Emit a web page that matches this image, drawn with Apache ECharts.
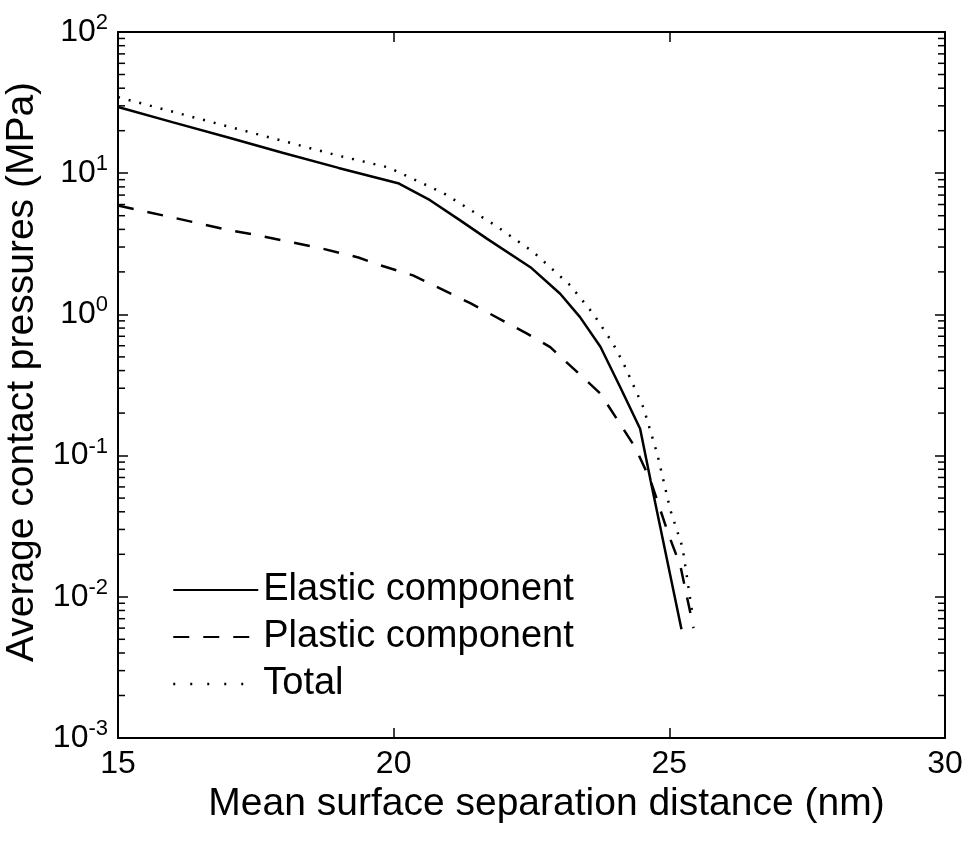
<!DOCTYPE html>
<html>
<head>
<meta charset="utf-8">
<title>Average contact pressures</title>
<script src="https://cdn.jsdelivr.net/npm/echarts@6/dist/echarts.min.js"></script>
<style>
  html, body { margin: 0; background: #fff; }
  #chart { width: 965px; height: 850px; }
</style>
</head>
<body>
<div id="chart"></div>
<script>
// separation distance (nm) / pressure (MPa)
const sepElastic = [15, 16, 17, 18, 19, 20.08, 20.66, 21.2, 21.69, 22.48, 23.02, 23.38, 23.75, 24.11, 24.47, 24.66, 25.22];
const elastic    = [29.4, 22.9, 17.9, 13.9, 10.9, 8.5, 6.44, 4.65, 3.44, 2.16, 1.40, 0.957, 0.59, 0.305, 0.155, 0.0665, 0.0059];

const sepPlastic = [15, 16, 17, 17.54, 18, 18.68, 19.36, 19.75, 20.35, 21.39, 22.42, 22.84, 23.75, 24.38, 24.66, 24.98, 25.2, 25.44];
const plastic    = [5.9, 4.85, 3.96, 3.63, 3.33, 2.94, 2.53, 2.23, 1.89, 1.20, 0.73, 0.586, 0.275, 0.1146, 0.0665, 0.028, 0.0166, 0.006];

const sepTotal = [15, 16, 17, 18, 19, 19.9, 20.9, 21.84, 22.53, 23.2, 23.62, 23.98, 24.17, 24.53, 24.78, 25.02, 25.24, 25.42];
const total    = [34.6, 27.2, 21.4, 16.9, 13.3, 11.0, 7.24, 4.28, 2.77, 1.61, 1.01, 0.62, 0.449, 0.219, 0.103, 0.041, 0.0223, 0.0075];

const seriesNames = ['Elastic component', 'Plastic component', 'Total'];
const xTicks = [15, 20, 25, 30];

// log minor tick values (2..9 in each decade)
const minorTicks = [
  0.002, 0.003, 0.004, 0.005, 0.006, 0.007, 0.008, 0.009,
  0.02, 0.03, 0.04, 0.05, 0.06, 0.07, 0.08, 0.09,
  0.2, 0.3, 0.4, 0.5, 0.6, 0.7, 0.8, 0.9,
  2, 3, 4, 5, 6, 7, 8, 9,
  20, 30, 40, 50, 60, 70, 80, 90
];

const font = 'Liberation Sans, Arial, Helvetica, sans-serif';
const pair = (xs, ys) => xs.map((x, i) => [x, ys[i]]);

const chart = echarts.init(document.getElementById('chart'));

const axisLine = { show: true, lineStyle: { color: '#000', width: 2 } };
const majorTick = { inside: true, length: 10, lineStyle: { color: '#000', width: 1.5 } };

chart.setOption({
  backgroundColor: '#fff',
  animation: false,
  grid: { left: 118, right: 20, top: 32, bottom: 112, outerBoundsMode: 'none', containLabel: false },
  legend: {
    orient: 'vertical',
    left: 172,
    top: 569,
    padding: 0,
    itemWidth: 85,
    itemHeight: 14,
    itemGap: 5,
    itemStyle: { opacity: 0, borderWidth: 0 },
    textStyle: { fontFamily: font, fontSize: 38, color: '#000', lineHeight: 42 },
    data: [
      { name: seriesNames[0] },
      { name: seriesNames[1] },
      { name: seriesNames[2], lineStyle: { type: [2, 15], width: 2.5 } }
    ]
  },
  xAxis: [{
    type: 'value',
    min: 15, max: 30, interval: 5,
    axisLine: axisLine,
    axisTick: majorTick,
    splitLine: { show: false },
    axisLabel: {
      fontFamily: font, fontSize: 32, color: '#000', margin: 10,
      formatter: v => xTicks.indexOf(v) >= 0 ? String(v) : ''
    },
    name: 'Mean surface separation distance (nm)',
    nameLocation: 'middle',
    nameGap: 47,
    nameTextStyle: { fontFamily: font, fontSize: 39, color: '#000', padding: [0, 0, 0, 30] }
  }, {
    type: 'value',
    position: 'top',
    min: 15, max: 30, interval: 5,
    axisLine: axisLine,
    axisTick: majorTick,
    axisLabel: { show: false },
    splitLine: { show: false }
  }],
  yAxis: [{
    type: 'log',
    logBase: 10,
    min: 0.001, max: 100,
    axisLine: axisLine,
    axisTick: majorTick,
    splitLine: { show: false },
    axisLabel: {
      margin: 10,
      formatter: v => '{b|10}{s|' + Math.round(Math.log10(v)) + '}',
      rich: {
        b: { fontFamily: font, fontSize: 32, color: '#000' },
        s: { fontFamily: font, fontSize: 22, color: '#000', padding: [0, 0, 18, 0] }
      }
    },
    name: 'Average contact pressures (MPa)',
    nameLocation: 'middle',
    nameGap: 69,
    nameTextStyle: { fontFamily: font, fontSize: 39, color: '#000', padding: [0, 0, 0, 26] }
  }, {
    type: 'log',
    logBase: 10,
    position: 'right',
    min: 0.001, max: 100,
    axisLine: axisLine,
    axisTick: majorTick,
    axisLabel: { show: false },
    splitLine: { show: false }
  }],
  series: [{
    name: seriesNames[0],
    type: 'line',
    data: pair(sepElastic, elastic),
    symbol: 'none',
    lineStyle: { color: '#000', width: 2.5, type: 'solid' },
    itemStyle: { color: '#000' }
  }, {
    name: seriesNames[1],
    type: 'line',
    data: pair(sepPlastic, plastic),
    symbol: 'none',
    lineStyle: { color: '#000', width: 2.5, type: [16, 14] },
    itemStyle: { color: '#000' }
  }, {
    name: seriesNames[2],
    type: 'line',
    data: pair(sepTotal, total),
    symbol: 'none',
    lineStyle: { color: '#000', width: 2.5, type: [2, 9] },
    itemStyle: { color: '#000' }
  }, {
    // minor log ticks on both vertical edges
    name: 'minor',
    type: 'custom',
    silent: true,
    data: minorTicks.map(v => [15, v]),
    encode: { x: 0, y: 1 },
    renderItem: function (params, api) {
      const v = api.value(1);
      const l = api.coord([15, v]);
      const r = api.coord([30, v]);
      const st = { stroke: '#000', lineWidth: 1.5 };
      return {
        type: 'group',
        children: [
          { type: 'line', shape: { x1: l[0], y1: l[1], x2: l[0] + 7, y2: l[1] }, style: st },
          { type: 'line', shape: { x1: r[0] - 7, y1: r[1], x2: r[0], y2: r[1] }, style: st }
        ]
      };
    }
  }]
});
</script>
</body>
</html>
